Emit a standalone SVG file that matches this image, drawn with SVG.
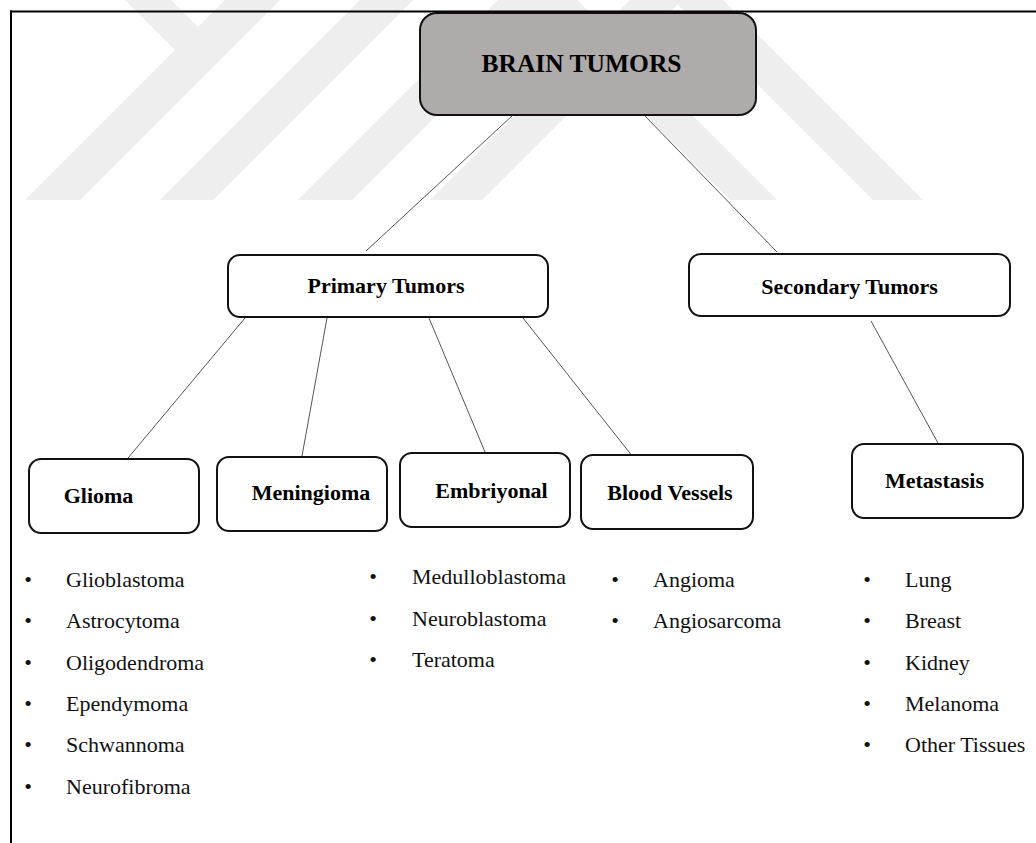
<svg xmlns="http://www.w3.org/2000/svg" width="1036" height="843" viewBox="0 0 1036 843">
  <style>
    .wm { fill: #eeeeee; }
    .frame { stroke: #000; stroke-width: 2; fill: none; }
    .box { fill: #ffffff; stroke: #111; stroke-width: 2; }
    .root { fill: #afabaa; stroke: #111; stroke-width: 2; }
    .conn { stroke: #555; stroke-width: 1; fill: none; }
    .lbl { font-family: "Liberation Serif", "Times New Roman", serif; font-weight: bold; font-size: 22px; fill: #000; text-anchor: middle; }
    .title { font-family: "Liberation Serif", "Times New Roman", serif; font-weight: bold; font-size: 25.5px; fill: #000; text-anchor: middle; }
    .item { font-family: "Liberation Serif", "Times New Roman", serif; font-size: 22px; fill: #111; }
    .bul { font-family: "Liberation Serif", "Times New Roman", serif; font-size: 22px; fill: #111; text-anchor: middle; }
  </style>
  <rect x="0" y="0" width="1036" height="843" fill="#ffffff"/>
  <g id="watermark">
    <polygon class="wm" points="125,0 175,50 25,200 80,200 280,0 225,0 198,27 171,0"/>
    <polygon class="wm" points="160,200 213,200 413,0 360,0"/>
    <polygon class="wm" points="298,200 352,200 552,0 498,0"/>
    <polygon class="wm" points="430,200 482,200 682,0 630,0"/>
    <polygon class="wm" points="730,200 777,200 577,0 530,0"/>
    <polygon class="wm" points="873,200 923,200 723,0 673,0"/>
  </g>
  <g id="frame">
    <line class="frame" x1="10" y1="11.5" x2="1036" y2="11.5"/>
    <line class="frame" x1="11" y1="10.5" x2="11" y2="843"/>
  </g>
  <g id="connectors">
    <line class="conn" x1="513" y1="115" x2="366" y2="251"/>
    <line class="conn" x1="644" y1="115" x2="777" y2="252"/>
    <line class="conn" x1="245" y1="318" x2="128" y2="458"/>
    <line class="conn" x1="327" y1="318" x2="302" y2="456"/>
    <line class="conn" x1="429" y1="318" x2="485" y2="452"/>
    <line class="conn" x1="523" y1="318" x2="633" y2="457"/>
    <line class="conn" x1="871" y1="321" x2="938" y2="443"/>
  </g>
  <g id="brain-tumors">
    <rect class="root" x="420" y="13" width="336" height="102" rx="17"/>
    <text class="title" x="581.5" y="72">BRAIN TUMORS</text>
  </g>
  <g id="primary-tumors">
    <rect class="box" x="228" y="255" width="320" height="62" rx="12"/>
    <text class="lbl" x="386" y="293">Primary Tumors</text>
  </g>
  <g id="secondary-tumors">
    <rect class="box" x="689" y="254" width="321" height="62" rx="12"/>
    <text class="lbl" x="849.5" y="294">Secondary Tumors</text>
  </g>
  <g id="glioma">
    <rect class="box" x="29" y="459" width="170" height="74" rx="12"/>
    <text class="lbl" x="98.5" y="503">Glioma</text>
  </g>
  <g id="meningioma">
    <rect class="box" x="217" y="457" width="170" height="74" rx="12"/>
    <text class="lbl" x="311" y="500">Meningioma</text>
  </g>
  <g id="embriyonal">
    <rect class="box" x="400" y="453" width="170" height="74" rx="12"/>
    <text class="lbl" x="491.5" y="498">Embriyonal</text>
  </g>
  <g id="blood-vessels">
    <rect class="box" x="581" y="455" width="172" height="74" rx="12"/>
    <text class="lbl" x="670" y="500">Blood Vessels</text>
  </g>
  <g id="metastasis">
    <rect class="box" x="852" y="444" width="171" height="74" rx="12"/>
    <text class="lbl" x="934.5" y="488">Metastasis</text>
  </g>
  <g id="glioma-list">
    <text class="bul" x="28" y="587">•</text><text class="item" x="66" y="587">Glioblastoma</text>
    <text class="bul" x="28" y="628">•</text><text class="item" x="66" y="628">Astrocytoma</text>
    <text class="bul" x="28" y="669.5">•</text><text class="item" x="66" y="669.5">Oligodendroma</text>
    <text class="bul" x="28" y="711">•</text><text class="item" x="66" y="711">Ependymoma</text>
    <text class="bul" x="28" y="752">•</text><text class="item" x="66" y="752">Schwannoma</text>
    <text class="bul" x="28" y="794">•</text><text class="item" x="66" y="794">Neurofibroma</text>
  </g>
  <g id="embriyonal-list">
    <text class="bul" x="373" y="584">•</text><text class="item" x="412" y="584">Medulloblastoma</text>
    <text class="bul" x="373" y="625.5">•</text><text class="item" x="412" y="625.5">Neuroblastoma</text>
    <text class="bul" x="373" y="667">•</text><text class="item" x="412" y="667">Teratoma</text>
  </g>
  <g id="blood-vessels-list">
    <text class="bul" x="615" y="587">•</text><text class="item" x="653" y="587">Angioma</text>
    <text class="bul" x="615" y="628">•</text><text class="item" x="653" y="628">Angiosarcoma</text>
  </g>
  <g id="metastasis-list">
    <text class="bul" x="867" y="587">•</text><text class="item" x="905" y="587">Lung</text>
    <text class="bul" x="867" y="628">•</text><text class="item" x="905" y="628">Breast</text>
    <text class="bul" x="867" y="670">•</text><text class="item" x="905" y="670">Kidney</text>
    <text class="bul" x="867" y="711">•</text><text class="item" x="905" y="711">Melanoma</text>
    <text class="bul" x="867" y="752">•</text><text class="item" x="905" y="752">Other Tissues</text>
  </g>
</svg>
